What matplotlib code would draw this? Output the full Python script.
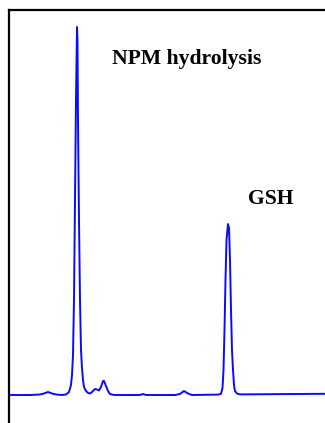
import matplotlib
matplotlib.use("Agg")
import matplotlib.pyplot as plt

# Chromatogram trace: retention time (min) and detector response (mAU)
time_min = [0.0, 2.0, 3.0, 3.4, 3.8, 4.2, 4.6, 5.2, 5.6, 5.9,
            6.1, 6.2, 6.3, 6.4, 6.5, 6.6, 6.7, 6.75, 6.8, 6.9,
            7.0, 7.1, 7.2, 7.3, 7.4, 7.6, 7.8, 8.0, 8.2, 8.5,
            8.7, 8.9, 9.1, 9.3, 9.4, 9.6, 9.8, 10.0, 10.4, 13.0,
            13.3, 13.6, 16.5, 17.0, 17.4, 17.8, 18.2, 20.8, 21.1, 21.25,
            21.35, 21.45, 21.55, 21.65, 21.8, 21.9, 22.0, 22.1, 22.2, 22.3,
            22.4, 22.5, 22.7, 23.0, 31.5]
signal_mau = [0.0, 0.0, 1.25, 3.75, 7.5, 3.75, 1.25, 0.0, 1.25, 7.5,
              25.0, 50.0, 100.0, 237.5, 487.5, 737.5, 920.0, 887.5, 687.5, 437.5,
              237.5, 112.5, 67.5, 37.5, 20.0, 10.0, 5.0, 3.75, 7.5, 15.0,
              13.75, 11.25, 20.0, 35.0, 35.0, 22.5, 10.0, 2.5, 0.0, 0.0,
              2.5, 0.0, 0.0, 2.5, 10.0, 3.75, 0.0, 1.0, 3.0, 17.5,
              62.5, 162.5, 287.5, 387.5, 427.5, 417.5, 337.5, 212.5, 112.5, 62.5,
              25.0, 10.0, 3.5, 1.5, 3.0]

peak_labels = ["NPM hydrolysis", "GSH"]
label_time = [10.2, 23.8]
label_signal = [827.5, 477.5]

fig = plt.figure(figsize=(3.25, 4.23), dpi=100)
ax = fig.add_axes([9 / 325, 0.0, 1 - 9 / 325, (423 - 10) / 423])

ax.plot(time_min, signal_mau, color="#0a0aff", linewidth=1.4)

ax.set_xlim(-0.1, 31.5)
ax.set_ylim(-70, 962.5)

for side in ("right", "bottom"):
    ax.spines[side].set_visible(False)
for side in ("left", "top"):
    ax.spines[side].set_linewidth(1.6)
    ax.spines[side].set_color("black")
ax.set_xticks([])
ax.set_yticks([])

for txt, tx, ty in zip(peak_labels, label_time, label_signal):
    ax.text(tx, ty, txt, family="Liberation Serif", fontweight="bold",
            fontsize=15.6, ha="left", va="baseline", color="black")

fig.savefig("out.png", dpi=100)
